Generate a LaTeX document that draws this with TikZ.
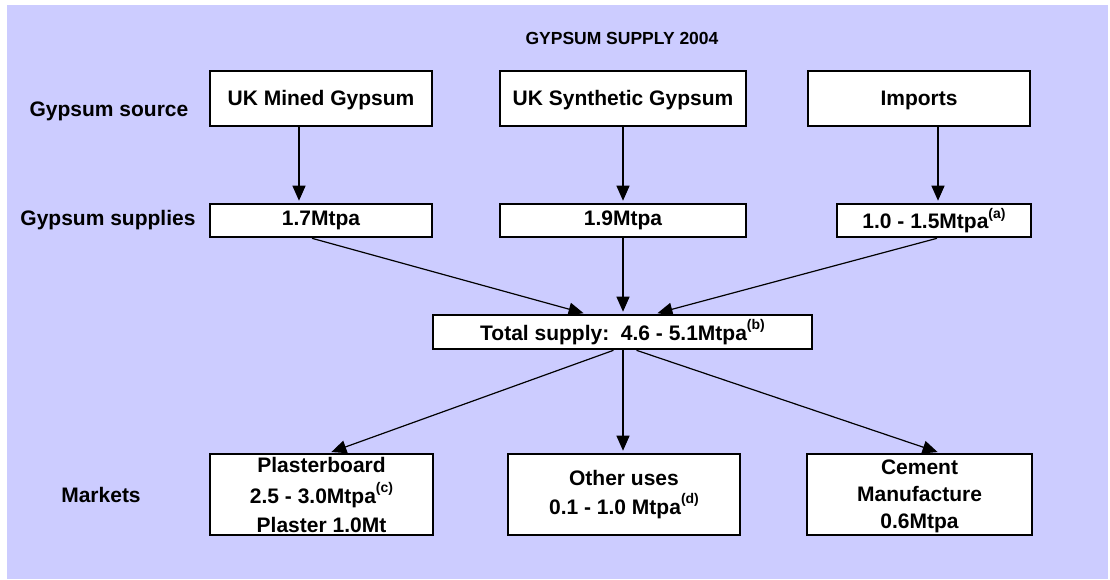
\documentclass[tikz,border=0pt]{standalone}
\usepackage{fontspec}
\setmainfont{Liberation Sans}
\usetikzlibrary{arrows.meta,calc}
\definecolor{bgc}{HTML}{CCCCFF}
\newcommand{\supx}[1]{\raisebox{0.5em}{\fontsize{14}{14}\selectfont #1}}
\begin{document}
\begin{tikzpicture}[x=1pt,y=-1pt,
  box/.style={draw=black,line width=2.6pt,fill=white,inner sep=0pt,align=center,
    font=\fontsize{21}{29}\selectfont\bfseries},
  lbl/.style={inner sep=0pt,font=\fontsize{21}{25}\selectfont\bfseries},
  arr/.style={line width=1.2pt,-{Triangle[length=15pt,width=13pt]},shorten >=2pt}]
\useasboundingbox (0,0) rectangle (1110,579);
\fill[bgc] (7,5) rectangle (1108,579);
\node[inner sep=0pt,font=\fontsize{17.5}{20}\selectfont\bfseries] (title) at (622,38) {GYPSUM SUPPLY 2004};
% sources
\node[box,minimum width=222pt,minimum height=55pt] (mined) at (321,98.5) {};
\node[box,minimum width=246pt,minimum height=55pt] (synth) at (623,98.5) {};
\node[box,minimum width=222pt,minimum height=55pt] (imp) at (919,98.5) {};
\node[lbl] (minedt) at ($(mined.center)+(0,1.5)$) {UK Mined Gypsum};
\node[lbl] (syntht) at ($(synth.center)+(0,1.5)$) {UK Synthetic Gypsum};
\node[lbl] (impt) at ($(imp.center)+(0,1.5)$) {Imports};
% supplies
\node[box,minimum width=222pt,minimum height=33pt] (s1) at (321,220.5) {1.7Mtpa};
\node[box,minimum width=246pt,minimum height=33pt] (s2) at (623,220.5) {1.9Mtpa};
\node[box,minimum width=194pt,minimum height=33pt] (s3) at (934,220.5) {1.0 - 1.5Mtpa\supx{(a)}};
% total
\node[box,minimum width=379pt,minimum height=34pt] (tot) at (622.5,332) {Total supply:\ \ 4.6 - 5.1Mtpa\supx{(b)}};
% markets
\node[box,minimum width=223pt,minimum height=81pt] (m1) at (321.5,494.5) {Plasterboard\\[2pt]2.5 - 3.0Mtpa\supx{(c)}\\Plaster 1.0Mt};
\node[box,minimum width=232pt,minimum height=81pt] (m2) at (624,494.5) {Other uses\\0.1 - 1.0 Mtpa\supx{(d)}};
\node[box,minimum width=225pt,minimum height=81pt] (m3) at (919.5,494.5) {};
\node[box,draw=none,fill=none] (m3t) at ($(m3.center)+(0,1.5)$) {Cement\\[-2pt]Manufacture\\[-2pt]0.6Mtpa};
% left labels
\node[lbl] (l1) at (109,111) {Gypsum source};
\node[lbl] (l2) at (108,220) {Gypsum supplies};
\node[lbl] (l3) at (101,495) {Markets};
% arrows
\draw[arr] ($(mined.south)+(-22,0)$) -- ($(s1.north)+(-22,0)$);
\draw[arr] (synth.south) -- (s2.north);
\draw[arr] ($(imp.south)+(19,0)$) -- ($(s3.north)+(4,0)$);
\draw[arr] ($(s1.south)+(-9,0)$) -- ($(tot.north)+(-37,0)$);
\draw[arr] (s2.south) -- ($(tot.north)+(0.5,0)$);
\draw[arr] ($(s3.south)+(3,0)$) -- ($(tot.north)+(33,0)$);
\draw[arr] ($(tot.south)+(-9,0)$) -- ($(m1.north)+(8,0)$);
\draw[arr] ($(tot.south)+(0.5,0)$) -- ($(m2.north)+(-1,0)$);
\draw[arr] ($(tot.south)+(14,0)$) -- ($(m3.north)+(20,0)$);
\end{tikzpicture}
\end{document}
